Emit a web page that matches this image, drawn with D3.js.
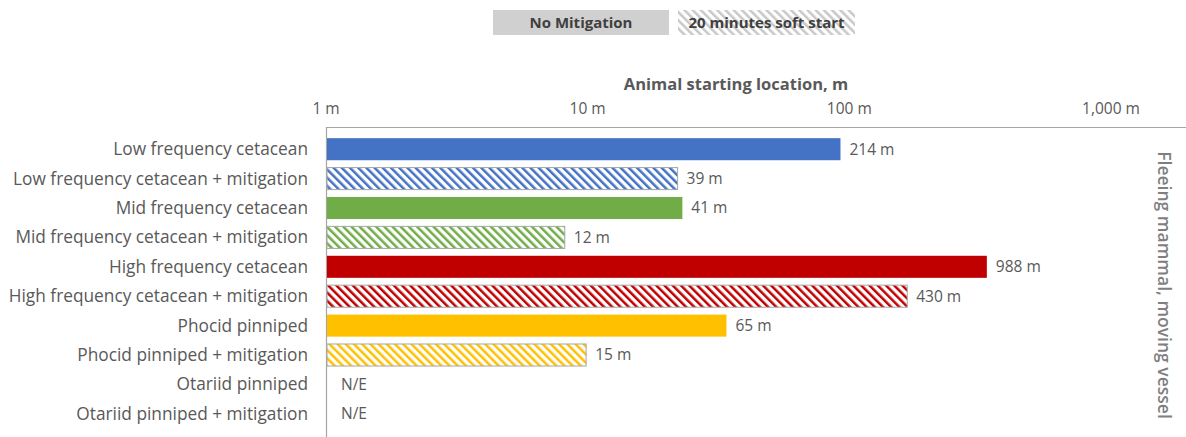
<!DOCTYPE html>
<html lang="en">
<head>
    <meta charset="UTF-8">
    <title>Animal starting location</title>
    <script src="https://d3js.org/d3.v7.min.js"></script>
    <style>
        body { margin: 0; background: #fff; font-family: "Open Sans", Lato, sans-serif; }
        text { fill: #595959; }
    </style>
</head>
<body>
    <svg id="chart" width="1186" height="437"></svg>

    <script>
        const categories = [
            "Low frequency cetacean",
            "Low frequency cetacean + mitigation",
            "Mid frequency cetacean",
            "Mid frequency cetacean + mitigation",
            "High frequency cetacean",
            "High frequency cetacean + mitigation",
            "Phocid pinniped",
            "Phocid pinniped + mitigation",
            "Otariid pinniped",
            "Otariid pinniped + mitigation"
        ];
        // null = not exceeded (N/E)
        const values = [214, 39, 41, 12, 988, 430, 65, 15, null, null];
        const mitigated = [false, true, false, true, false, true, false, true, false, true];
        const colors = ["#4472C4", "#4472C4", "#70AD47", "#70AD47", "#C00000", "#C00000", "#FFC000", "#FFC000", "#999", "#999"];
        const tickValues = [1, 10, 100, 1000];
        const tickLabels = ["1 m", "10 m", "100 m", "1,000 m"];
        const legendItems = ["No Mitigation", "20 minutes soft start"];

        const svg = d3.select("#chart");
        const defs = svg.append("defs");

        // diagonal hatch per colour
        function hatch(id, color) {
            const p = defs.append("pattern")
                .attr("id", id)
                .attr("patternUnits", "userSpaceOnUse")
                .attr("width", 5.8).attr("height", 8)
                .attr("patternTransform", "rotate(-45)");
            p.append("rect").attr("width", 5.8).attr("height", 8).attr("fill", "#fff");
            p.append("rect").attr("width", 2.5).attr("height", 8).attr("fill", color);
        }
        const uniq = Array.from(new Set(colors));
        uniq.forEach((c, i) => hatch("h" + i, c));
        hatch("hLegend", "#c8c8c8");

        const x = d3.scaleLog().domain([1, 1000]).range([327, 988]);
        const xLabels = d3.scaleLog().domain([1, 1000]).range([326, 1111]);
        const y = d3.scaleBand().domain(categories).range([134.5, 428.5]).paddingInner(0.25).paddingOuter(0.125);

        // top axis line + labels
        svg.append("line")
            .attr("x1", 326).attr("x2", 1186)
            .attr("y1", 127.5).attr("y2", 127.5)
            .attr("stroke", "#a6a6a6").attr("stroke-width", 1.2);
        svg.selectAll(".tick-label")
            .data(tickValues)
            .enter().append("text")
            .attr("x", d => xLabels(d))
            .attr("y", 114)
            .attr("text-anchor", "middle")
            .attr("font-size", 15.5)
            .text((d, i) => tickLabels[i]);

        svg.append("text")
            .attr("x", 736).attr("y", 90)
            .attr("text-anchor", "middle")
            .attr("font-size", 16.5).attr("font-weight", "bold")
            .text("Animal starting location, m");

        // vertical axis line
        svg.append("line")
            .attr("x1", 326.5).attr("x2", 326.5)
            .attr("y1", 127).attr("y2", 437)
            .attr("stroke", "#a6a6a6").attr("stroke-width", 1.2);

        // category labels
        svg.selectAll(".cat")
            .data(categories)
            .enter().append("text")
            .attr("x", 308)
            .attr("y", d => y(d) + y.bandwidth() / 2)
            .attr("dy", "0.35em")
            .attr("text-anchor", "end")
            .attr("font-size", 17.3)
            .text(d => d);

        // bars
        const rows = categories.map((c, i) => ({ cat: c, v: values[i], m: mitigated[i], color: colors[i] }));
        svg.selectAll(".bar")
            .data(rows.filter(d => d.v !== null))
            .enter().append("rect")
            .attr("x", x(1))
            .attr("y", d => y(d.cat))
            .attr("width", d => x(d.v) - x(1))
            .attr("height", y.bandwidth())
            .attr("fill", d => d.m ? `url(#h${uniq.indexOf(d.color)})` : d.color)
            .attr("stroke", d => d.m ? "#a6a6a6" : "none")
            .attr("stroke-width", 1);

        svg.selectAll(".val")
            .data(rows)
            .enter().append("text")
            .attr("x", d => d.v === null ? 341 : x(d.v) + 9)
            .attr("y", d => y(d.cat) + y.bandwidth() / 2)
            .attr("dy", "0.35em")
            .attr("font-size", 15.5)
            .text(d => d.v === null ? "N/E" : d.v + " m");

        // right-side label
        svg.append("text")
            .attr("transform", "translate(1164,285) rotate(90)")
            .attr("text-anchor", "middle")
            .attr("dy", "0.35em")
            .attr("font-size", 17.5)
            .attr("font-weight", 600)
            .style("fill", "#7f7f7f")
            .text("Fleeing mammal, moving vessel");

        // legend
        const leg = svg.append("g");
        const legBoxes = [{ x: 493, w: 176, fill: "#d0d0d0" }, { x: 678, w: 177, fill: "url(#hLegend)" }];
        legendItems.forEach((t, i) => {
            leg.append("rect")
                .attr("x", legBoxes[i].x).attr("y", 10)
                .attr("width", legBoxes[i].w).attr("height", 25)
                .attr("fill", legBoxes[i].fill);
            leg.append("text")
                .attr("x", legBoxes[i].x + legBoxes[i].w / 2)
                .attr("y", 23).attr("dy", "0.35em")
                .attr("text-anchor", "middle")
                .attr("font-size", 15).attr("font-weight", "bold")
                .style("fill", "#404040")
                .text(t);
        });
    </script>
</body>
</html>
